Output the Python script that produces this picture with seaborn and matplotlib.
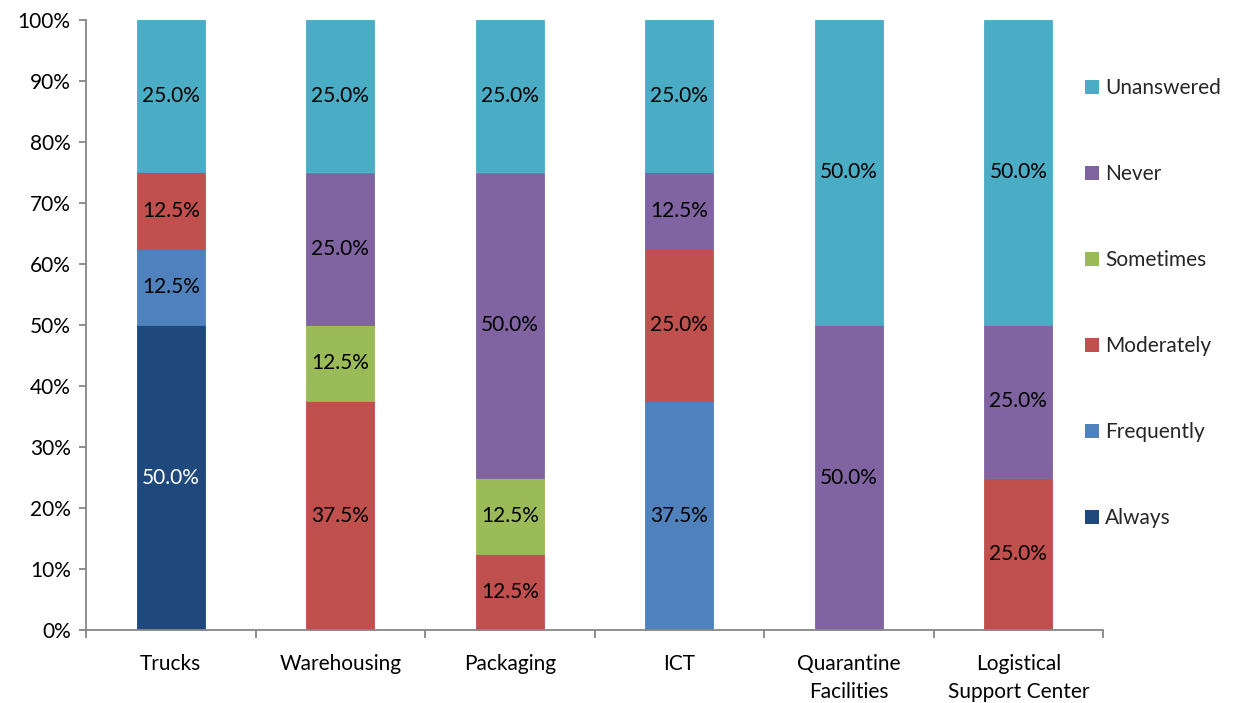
import numpy as np
import pandas as pd
import matplotlib
matplotlib.use("Agg")
import matplotlib.pyplot as plt
import seaborn as sns
from matplotlib.patches import Patch
from matplotlib.ticker import FixedLocator

categories = ["Trucks", "Warehousing", "Packaging", "ICT",
              "Quarantine\nFacilities", "Logistical\nSupport Center"]

# Share of responses (%) per answer, bottom to top of each stack
always      = [50.0, 0.0,  0.0,  0.0,  0.0,  0.0]
frequently  = [12.5, 0.0,  0.0,  37.5, 0.0,  0.0]
moderately  = [12.5, 37.5, 12.5, 25.0, 0.0,  25.0]
sometimes   = [0.0,  12.5, 12.5, 0.0,  0.0,  0.0]
never       = [0.0,  25.0, 50.0, 12.5, 50.0, 25.0]
unanswered  = [25.0, 25.0, 25.0, 25.0, 50.0, 50.0]

series_names = ["Always", "Frequently", "Moderately", "Sometimes", "Never", "Unanswered"]
series_values = [always, frequently, moderately, sometimes, never, unanswered]
series_colors = ["#1F497D", "#4F81BD", "#C0504D", "#9BBB59", "#8064A2", "#4BACC6"]
label_colors = ["white", "black", "black", "black", "black", "black"]

yticks = list(range(0, 101, 10))

sns.set_theme(style="white")
plt.rcParams["font.family"] = ["Lato", "DejaVu Sans"]

fig = plt.figure(figsize=(12.4, 7.03), dpi=100)
ax = fig.add_axes([86 / 1240, 1 - 630 / 703, (1103 - 86) / 1240, (630 - 20) / 703])

df = pd.DataFrame({"category": categories})
bottom = np.zeros(len(categories))
fs = 15
for name, vals, col, lcol in zip(series_names, series_values, series_colors, label_colors):
    df[name] = vals
    sns.barplot(data=df, x="category", y=name, order=categories, bottom=bottom,
                color=col, saturation=1, width=0.4, linewidth=0.6, edgecolor=col, ax=ax)
    for i, v in enumerate(vals):
        if v > 0:
            ax.text(i, bottom[i] + v / 2, f"{v:.1f}%", ha="center", va="center",
                    fontsize=fs, color=lcol)
    bottom = bottom + np.array(vals)

ax.set_xlim(-0.5, len(categories) - 0.5)
ax.set_ylim(0, 100)
ax.set_xlabel("")
ax.set_ylabel("")
ax.set_yticks(yticks)
ax.set_yticklabels([f"{t}%" for t in yticks], fontsize=fs, color="black")
ax.set_xticks(range(len(categories)))
ax.set_xticklabels(categories, fontsize=fs, color="black", linespacing=1.5)
ax.xaxis.set_minor_locator(FixedLocator(np.arange(-0.5, len(categories), 1.0)))

spine_col = "#868686"
for s in ["top", "right"]:
    ax.spines[s].set_visible(False)
for s in ["left", "bottom"]:
    ax.spines[s].set_color(spine_col)
    ax.spines[s].set_linewidth(1.3)

ax.tick_params(axis="y", which="major", left=True, length=5, width=1.3, color=spine_col, pad=6)
ax.tick_params(axis="x", which="major", bottom=True, length=0, pad=17)
ax.tick_params(axis="x", which="minor", bottom=True, length=6, width=1.3, color=spine_col)

handles = [Patch(facecolor=c, edgecolor="none") for c in series_colors][::-1]
labels = series_names[::-1]
fig.legend(handles, labels, loc="upper left", bbox_to_anchor=(1085 / 1240, 1 - 78 / 703),
           frameon=False, fontsize=fs, handlelength=0.68, handleheight=0.68,
           handletextpad=0.3, labelspacing=3.17, borderaxespad=0, borderpad=0)

fig.savefig("out.png", dpi=100, facecolor="white")
